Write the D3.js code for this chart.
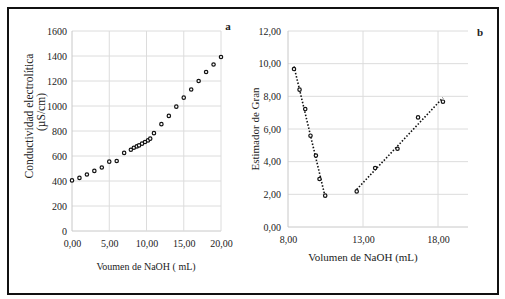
<!DOCTYPE html>
<html>
<head>
<meta charset="utf-8">
<script src="https://cdn.jsdelivr.net/npm/d3@7"></script>
<style>
  body { margin: 0; background: #fff; }
  svg text { font-family: "Liberation Serif", "Times New Roman", serif; fill: #222; }
</style>
</head>
<body>
<div id="chart"></div>
<script>
// panel a: conductimetric titration
const volA = [0, 1, 2, 3, 4, 5, 6, 7, 7.9, 8.3, 8.7, 9.0, 9.4, 9.8, 10.2, 10.5, 11, 12, 13, 14, 15, 16, 17, 18, 19, 20];
const condA = [405, 425, 452, 481, 508, 555, 560, 625, 650, 666, 677, 685, 699, 712, 725, 739, 783, 855, 921, 995, 1067, 1132, 1200, 1272, 1332, 1392];
const xTicksA = [0, 5, 10, 15, 20];
const yTicksA = [0, 200, 400, 600, 800, 1000, 1200, 1400, 1600];

// panel b: Gran estimator, two branches
const volLeft = [8.40, 8.77, 9.15, 9.50, 9.86, 10.10, 10.48];
const granLeft = [9.67, 8.41, 7.22, 5.59, 4.37, 2.94, 1.92];
const volRight = [12.58, 13.81, 15.30, 16.67, 18.33];
const granRight = [2.18, 3.61, 4.79, 6.71, 7.67];
const xTicksB = [8, 13, 18];
const yTicksB = [0, 2, 4, 6, 8, 10, 12];

const W = 505, H = 299;
const svg = d3.select('#chart').append('svg').attr('width', W).attr('height', H);

// outer frame
svg.append('rect')
  .attr('x', 8).attr('y', 8).attr('width', 490).attr('height', 286)
  .attr('fill', 'none').attr('stroke', '#111').attr('stroke-width', 2);

const comma = f => d => f(d).replace('.', ',');
const fmt2 = comma(d3.format('.2f'));

function markers(g, xs, ys, x, y) {
  g.append('g').selectAll('circle')
    .data(xs.map((v, i) => [v, ys[i]]))
    .join('circle')
    .attr('cx', d => x(d[0]))
    .attr('cy', d => y(d[1]))
    .attr('r', 1.7)
    .attr('fill', '#fff')
    .attr('stroke', '#111')
    .attr('stroke-width', 1.2);
}

function grid(g, x, y, xt, yt) {
  g.append('g').selectAll('line.h').data(yt).join('line')
    .attr('x1', x.range()[0]).attr('x2', x.range()[1])
    .attr('y1', d => y(d)).attr('y2', d => y(d))
    .attr('stroke', d => d === y.domain()[0] ? '#c8c8c8' : '#dcdcdc').attr('stroke-width', 1);
  g.append('g').selectAll('line.v').data(xt).join('line')
    .attr('x1', d => x(d)).attr('x2', d => x(d))
    .attr('y1', y.range()[0]).attr('y2', y.range()[1])
    .attr('stroke', d => d === x.domain()[0] ? '#c8c8c8' : '#dcdcdc').attr('stroke-width', 1);
}

// ---- panel a ----
const xa = d3.scaleLinear().domain([0, 20]).range([72, 221]);
const ya = d3.scaleLinear().domain([0, 1600]).range([231, 31]);
const ga = svg.append('g');
grid(ga, xa, ya, xTicksA, yTicksA);

ga.append('g')
  .attr('transform', `translate(0,${ya(0)})`)
  .call(d3.axisBottom(xa).tickValues(xTicksA).tickFormat(fmt2).tickSize(0).tickPadding(9))
  .call(g => g.select('.domain').remove())
  .selectAll('text').attr('font-size', '10px');

ga.append('g')
  .attr('transform', `translate(${xa(0)},0)`)
  .call(d3.axisLeft(ya).tickValues(yTicksA).tickFormat(d3.format('d')).tickSize(0).tickPadding(5))
  .call(g => g.select('.domain').remove())
  .selectAll('text').attr('font-size', '10px');

markers(ga, volA, condA, xa, ya);

ga.append('text').attr('x', 146).attr('y', 270).attr('text-anchor', 'middle')
  .attr('font-size', '10px').text('Voumen de NaOH ( mL)');

ga.append('text').attr('transform', 'translate(33,116) rotate(-90)').attr('text-anchor', 'middle')
  .attr('font-size', '11.5px').text('Conductividad electrolítica');
ga.append('text').attr('transform', 'translate(45,112) rotate(-90)').attr('text-anchor', 'middle')
  .attr('font-size', '11.5px').text('(µS/cm)');

ga.append('text').attr('x', 228).attr('y', 30).attr('text-anchor', 'middle')
  .attr('font-size', '11px').attr('font-weight', 'bold').text('a');

// ---- panel b ----
const xb = d3.scaleLinear().domain([8, 20]).range([288, 468]);
const yb = d3.scaleLinear().domain([0, 12]).range([227, 31]);
const gb = svg.append('g');
grid(gb, xb, yb, xTicksB, yTicksB);

gb.append('g')
  .attr('transform', `translate(0,${yb(0)})`)
  .call(d3.axisBottom(xb).tickValues(xTicksB).tickFormat(fmt2).tickSize(0).tickPadding(9))
  .call(g => g.select('.domain').remove())
  .selectAll('text').attr('font-size', '10px');

gb.append('g')
  .attr('transform', `translate(${xb(8)},0)`)
  .call(d3.axisLeft(yb).tickValues(yTicksB).tickFormat(fmt2).tickSize(0).tickPadding(7))
  .call(g => g.select('.domain').remove())
  .selectAll('text').attr('font-size', '10px');

// least-squares trendlines for each branch
function trend(xs, ys) {
  const mx = d3.mean(xs), my = d3.mean(ys);
  const m = d3.sum(xs, (v, i) => (v - mx) * (ys[i] - my)) / d3.sum(xs, v => (v - mx) ** 2);
  const b = my - m * mx;
  const x0 = d3.min(xs), x1 = d3.max(xs);
  return [[x0, m * x0 + b], [x1, m * x1 + b]];
}
const line = d3.line().x(d => xb(d[0])).y(d => yb(d[1]));
[[volLeft, granLeft], [volRight, granRight]].forEach(([xs, ys]) => {
  gb.append('path').attr('d', line(trend(xs, ys)))
    .attr('fill', 'none').attr('stroke', '#111').attr('stroke-width', 1.6)
    .attr('stroke-dasharray', '1.5,1.8');
});

markers(gb, volLeft, granLeft, xb, yb);
markers(gb, volRight, granRight, xb, yb);

gb.append('text').attr('x', 363).attr('y', 261).attr('text-anchor', 'middle')
  .attr('font-size', '11px').text('Volumen de  NaOH (mL)');

gb.append('text').attr('transform', 'translate(259,129) rotate(-90)').attr('text-anchor', 'middle')
  .attr('font-size', '11px').text('Estimador de Gran');

gb.append('text').attr('x', 480).attr('y', 36).attr('text-anchor', 'middle')
  .attr('font-size', '11px').attr('font-weight', 'bold').text('b');
</script>
</body>
</html>
